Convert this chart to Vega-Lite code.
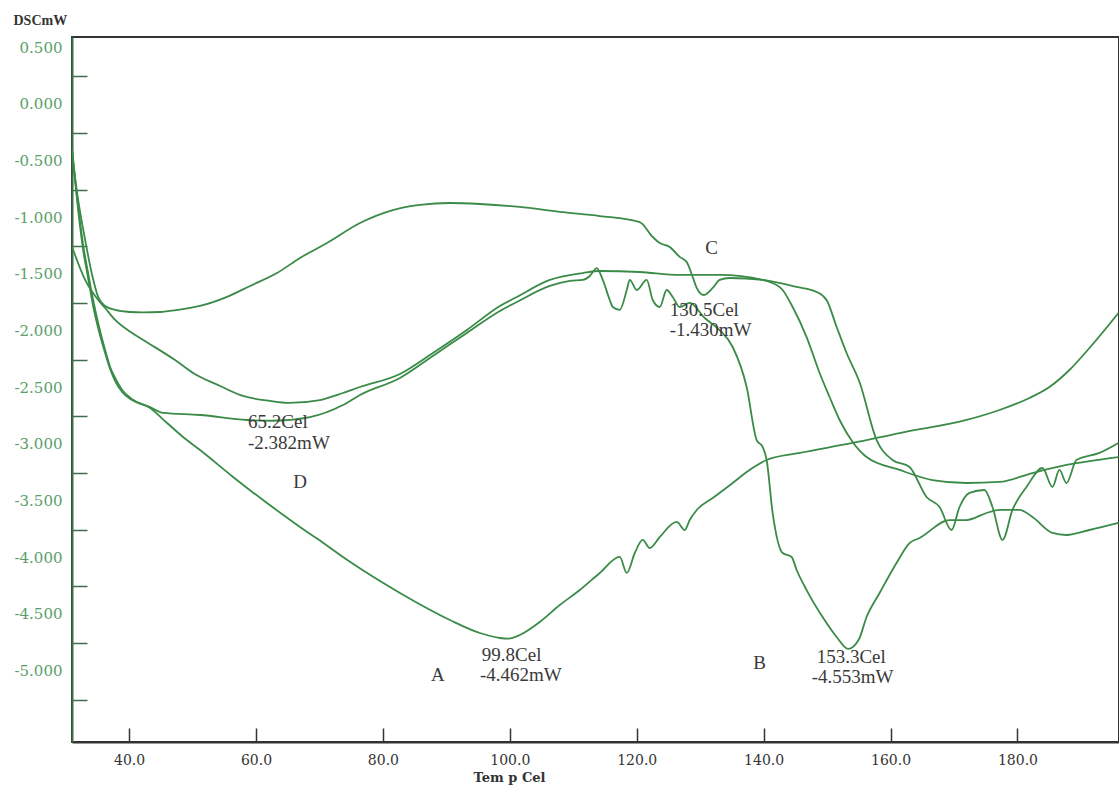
{
  "$schema": "https://vega.github.io/schema/vega-lite/v6.json",
  "width": 1047,
  "height": 705,
  "autosize": {"type": "none"},
  "padding": {"left": 72, "top": 37, "right": 0, "bottom": 44},
  "background": "white",
  "config": {"view": {"stroke": "#333333", "strokeWidth": 2}},
  "datasets": {
    "curves": [
      {"curve":"A","temp":31.02,"dsc":-0.15},{"curve":"A","temp":31.5,"dsc":-0.415},{"curve":"A","temp":31.97,"dsc":-0.653},{"curve":"A","temp":32.76,"dsc":-0.989},{"curve":"A","temp":33.54,"dsc":-1.236},{"curve":"A","temp":34.33,"dsc":-1.474},{"curve":"A","temp":35.12,"dsc":-1.677},{"curve":"A","temp":36.22,"dsc":-1.915},{"curve":"A","temp":37.01,"dsc":-2.065},{"curve":"A","temp":37.8,"dsc":-2.162},{"curve":"A","temp":38.9,"dsc":-2.268},{"curve":"A","temp":40.47,"dsc":-2.35},{"curve":"A","temp":43.31,"dsc":-2.427},{"curve":"A","temp":45.98,"dsc":-2.56},{"curve":"A","temp":48.5,"dsc":-2.683},{"curve":"A","temp":51.18,"dsc":-2.798},{"curve":"A","temp":56.38,"dsc":-3.036},{"curve":"A","temp":61.73,"dsc":-3.266},{"curve":"A","temp":66.93,"dsc":-3.477},{"curve":"A","temp":69.61,"dsc":-3.58},{"curve":"A","temp":74.8,"dsc":-3.785},{"curve":"A","temp":82.68,"dsc":-4.06},{"curve":"A","temp":90.55,"dsc":-4.298},{"curve":"A","temp":95.28,"dsc":-4.413},{"curve":"A","temp":98.43,"dsc":-4.457},{"curve":"A","temp":99.8,"dsc":-4.462},{"curve":"A","temp":101.57,"dsc":-4.431},{"curve":"A","temp":104.72,"dsc":-4.316},{"curve":"A","temp":107.87,"dsc":-4.166},{"curve":"A","temp":111.02,"dsc":-4.034},{"curve":"A","temp":114.17,"dsc":-3.883},{"curve":"A","temp":117.32,"dsc":-3.742},{"curve":"A","temp":118.43,"dsc":-3.883},{"curve":"A","temp":119.69,"dsc":-3.707},{"curve":"A","temp":120.94,"dsc":-3.592},{"curve":"A","temp":122.05,"dsc":-3.663},{"curve":"A","temp":123.62,"dsc":-3.566},{"curve":"A","temp":126.3,"dsc":-3.433},{"curve":"A","temp":127.56,"dsc":-3.504},{"curve":"A","temp":128.35,"dsc":-3.416},{"curve":"A","temp":129.45,"dsc":-3.327},{"curve":"A","temp":131.97,"dsc":-3.222},{"curve":"A","temp":135.12,"dsc":-3.089},{"curve":"A","temp":137.32,"dsc":-2.992},{"curve":"A","temp":140.47,"dsc":-2.886},{"curve":"A","temp":145.67,"dsc":-2.824},{"curve":"A","temp":154.02,"dsc":-2.736},{"curve":"A","temp":161.42,"dsc":-2.648},{"curve":"A","temp":171.97,"dsc":-2.533},{"curve":"A","temp":177.17,"dsc":-2.445},{"curve":"A","temp":181.89,"dsc":-2.339},{"curve":"A","temp":185.04,"dsc":-2.242},{"curve":"A","temp":188.19,"dsc":-2.092},{"curve":"A","temp":191.34,"dsc":-1.898},{"curve":"A","temp":195.91,"dsc":-1.589},
      {"curve":"B","temp":31.02,"dsc":-0.15},{"curve":"B","temp":31.5,"dsc":-0.432},{"curve":"B","temp":31.97,"dsc":-0.68},{"curve":"B","temp":32.76,"dsc":-1.033},{"curve":"B","temp":33.54,"dsc":-1.28},{"curve":"B","temp":34.33,"dsc":-1.527},{"curve":"B","temp":35.12,"dsc":-1.721},{"curve":"B","temp":36.22,"dsc":-1.942},{"curve":"B","temp":37.01,"dsc":-2.083},{"curve":"B","temp":37.8,"dsc":-2.189},{"curve":"B","temp":38.9,"dsc":-2.286},{"curve":"B","temp":40.47,"dsc":-2.357},{"curve":"B","temp":43.31,"dsc":-2.42},{"curve":"B","temp":45.35,"dsc":-2.471},{"curve":"B","temp":51.18,"dsc":-2.489},{"curve":"B","temp":58.58,"dsc":-2.533},{"curve":"B","temp":62.5,"dsc":-2.54},{"curve":"B","temp":68.5,"dsc":-2.507},{"curve":"B","temp":73.7,"dsc":-2.401},{"curve":"B","temp":76.38,"dsc":-2.312},{"curve":"B","temp":82.68,"dsc":-2.162},{"curve":"B","temp":87.87,"dsc":-1.968},{"curve":"B","temp":93.23,"dsc":-1.765},{"curve":"B","temp":98.43,"dsc":-1.571},{"curve":"B","temp":101.1,"dsc":-1.492},{"curve":"B","temp":106.3,"dsc":-1.35},{"curve":"B","temp":109.45,"dsc":-1.306},{"curve":"B","temp":111.5,"dsc":-1.297},{"curve":"B","temp":112.6,"dsc":-1.262},{"curve":"B","temp":113.7,"dsc":-1.192},{"curve":"B","temp":114.65,"dsc":-1.297},{"curve":"B","temp":115.75,"dsc":-1.474},{"curve":"B","temp":116.22,"dsc":-1.536},{"curve":"B","temp":117.32,"dsc":-1.562},{"curve":"B","temp":118.43,"dsc":-1.386},{"curve":"B","temp":118.9,"dsc":-1.297},{"curve":"B","temp":120.0,"dsc":-1.386},{"curve":"B","temp":121.57,"dsc":-1.297},{"curve":"B","temp":122.52,"dsc":-1.474},{"curve":"B","temp":123.62,"dsc":-1.536},{"curve":"B","temp":124.72,"dsc":-1.386},{"curve":"B","temp":125.67,"dsc":-1.447},{"curve":"B","temp":126.77,"dsc":-1.536},{"curve":"B","temp":128.35,"dsc":-1.5},{"curve":"B","temp":130.71,"dsc":-1.633},{"curve":"B","temp":133.07,"dsc":-1.739},{"curve":"B","temp":135.12,"dsc":-1.889},{"curve":"B","temp":137.32,"dsc":-2.242},{"curve":"B","temp":138.9,"dsc":-2.71},{"curve":"B","temp":139.84,"dsc":-2.771},{"curve":"B","temp":140.47,"dsc":-2.886},{"curve":"B","temp":141.42,"dsc":-3.354},{"curve":"B","temp":142.99,"dsc":-3.707},{"curve":"B","temp":144.41,"dsc":-3.742},{"curve":"B","temp":145.2,"dsc":-3.857},{"curve":"B","temp":146.77,"dsc":-4.034},{"curve":"B","temp":149.29,"dsc":-4.272},{"curve":"B","temp":151.5,"dsc":-4.448},{"curve":"B","temp":153.3,"dsc":-4.553},{"curve":"B","temp":155.0,"dsc":-4.47},{"curve":"B","temp":156.22,"dsc":-4.272},{"curve":"B","temp":158.27,"dsc":-4.06},{"curve":"B","temp":160.94,"dsc":-3.795},{"curve":"B","temp":162.99,"dsc":-3.619},{"curve":"B","temp":164.57,"dsc":-3.575},{"curve":"B","temp":169.29,"dsc":-3.416},{"curve":"B","temp":171.97,"dsc":-3.416},{"curve":"B","temp":175.12,"dsc":-3.354},{"curve":"B","temp":177.17,"dsc":-3.327},{"curve":"B","temp":180.31,"dsc":-3.327},{"curve":"B","temp":182.36,"dsc":-3.389},{"curve":"B","temp":185.51,"dsc":-3.53},{"curve":"B","temp":187.72,"dsc":-3.548},{"curve":"B","temp":191.34,"dsc":-3.504},{"curve":"B","temp":195.91,"dsc":-3.442},
      {"curve":"C","temp":31.02,"dsc":-0.194},{"curve":"C","temp":31.97,"dsc":-0.591},{"curve":"C","temp":33.07,"dsc":-0.944},{"curve":"C","temp":34.17,"dsc":-1.253},{"curve":"C","temp":35.12,"dsc":-1.447},{"curve":"C","temp":36.22,"dsc":-1.527},{"curve":"C","temp":37.8,"dsc":-1.562},{"curve":"C","temp":40.16,"dsc":-1.58},{"curve":"C","temp":42.2,"dsc":-1.584},{"curve":"C","temp":44.88,"dsc":-1.58},{"curve":"C","temp":47.56,"dsc":-1.562},{"curve":"C","temp":51.18,"dsc":-1.527},{"curve":"C","temp":55.43,"dsc":-1.447},{"curve":"C","temp":59.06,"dsc":-1.35},{"curve":"C","temp":63.31,"dsc":-1.236},{"curve":"C","temp":66.93,"dsc":-1.103},{"curve":"C","temp":71.18,"dsc":-0.971},{"curve":"C","temp":76.38,"dsc":-0.794},{"curve":"C","temp":81.57,"dsc":-0.68},{"curve":"C","temp":85.83,"dsc":-0.635},{"curve":"C","temp":90.55,"dsc":-0.618},{"curve":"C","temp":95.28,"dsc":-0.627},{"curve":"C","temp":101.57,"dsc":-0.653},{"curve":"C","temp":107.87,"dsc":-0.697},{"curve":"C","temp":114.17,"dsc":-0.733},{"curve":"C","temp":120.47,"dsc":-0.786},{"curve":"C","temp":122.52,"dsc":-0.918},{"curve":"C","temp":123.62,"dsc":-0.971},{"curve":"C","temp":125.2,"dsc":-1.006},{"curve":"C","temp":126.77,"dsc":-1.094},{"curve":"C","temp":127.87,"dsc":-1.139},{"curve":"C","temp":128.82,"dsc":-1.271},{"curve":"C","temp":129.45,"dsc":-1.368},{"curve":"C","temp":130.5,"dsc":-1.43},{"curve":"C","temp":131.97,"dsc":-1.368},{"curve":"C","temp":133.07,"dsc":-1.297},{"curve":"C","temp":134.65,"dsc":-1.28},{"curve":"C","temp":139.84,"dsc":-1.297},{"curve":"C","temp":145.2,"dsc":-1.359},{"curve":"C","temp":148.35,"dsc":-1.403},{"curve":"C","temp":149.92,"dsc":-1.474},{"curve":"C","temp":151.5,"dsc":-1.712},{"curve":"C","temp":153.07,"dsc":-1.942},{"curve":"C","temp":155.12,"dsc":-2.2},{"curve":"C","temp":157.8,"dsc":-2.71},{"curve":"C","temp":160.31,"dsc":-2.886},{"curve":"C","temp":162.99,"dsc":-2.948},{"curve":"C","temp":165.67,"dsc":-3.213},{"curve":"C","temp":167.72,"dsc":-3.301},{"curve":"C","temp":169.61,"dsc":-3.504},{"curve":"C","temp":170.87,"dsc":-3.301},{"curve":"C","temp":172.44,"dsc":-3.177},{"curve":"C","temp":174.8,"dsc":-3.151},{"curve":"C","temp":176.06,"dsc":-3.301},{"curve":"C","temp":177.64,"dsc":-3.592},{"curve":"C","temp":179.21,"dsc":-3.327},{"curve":"C","temp":181.42,"dsc":-3.124},{"curve":"C","temp":183.94,"dsc":-2.957},{"curve":"C","temp":185.51,"dsc":-3.124},{"curve":"C","temp":186.61,"dsc":-2.974},{"curve":"C","temp":187.72,"dsc":-3.089},{"curve":"C","temp":189.29,"dsc":-2.886},{"curve":"C","temp":192.91,"dsc":-2.824},{"curve":"C","temp":195.91,"dsc":-2.736},
      {"curve":"D","temp":31.02,"dsc":-1.006},{"curve":"D","temp":33.07,"dsc":-1.297},{"curve":"D","temp":35.12,"dsc":-1.474},{"curve":"D","temp":36.22,"dsc":-1.545},{"curve":"D","temp":37.8,"dsc":-1.65},{"curve":"D","temp":40.47,"dsc":-1.765},{"curve":"D","temp":42.99,"dsc":-1.853},{"curve":"D","temp":47.24,"dsc":-2.004},{"curve":"D","temp":50.08,"dsc":-2.118},{"curve":"D","temp":54.33,"dsc":-2.233},{"curve":"D","temp":57.95,"dsc":-2.321},{"curve":"D","temp":62.2,"dsc":-2.365},{"curve":"D","temp":65.2,"dsc":-2.382},{"curve":"D","temp":70.08,"dsc":-2.357},{"curve":"D","temp":73.7,"dsc":-2.295},{"curve":"D","temp":76.38,"dsc":-2.242},{"curve":"D","temp":82.68,"dsc":-2.127},{"curve":"D","temp":87.87,"dsc":-1.942},{"curve":"D","temp":93.23,"dsc":-1.739},{"curve":"D","temp":98.43,"dsc":-1.527},{"curve":"D","temp":101.1,"dsc":-1.447},{"curve":"D","temp":106.3,"dsc":-1.297},{"curve":"D","temp":111.5,"dsc":-1.236},{"curve":"D","temp":114.17,"dsc":-1.218},{"curve":"D","temp":120.47,"dsc":-1.227},{"curve":"D","temp":126.77,"dsc":-1.253},{"curve":"D","temp":133.07,"dsc":-1.253},{"curve":"D","temp":139.84,"dsc":-1.297},{"curve":"D","temp":140.94,"dsc":-1.315},{"curve":"D","temp":142.99,"dsc":-1.386},{"curve":"D","temp":144.57,"dsc":-1.536},{"curve":"D","temp":146.77,"dsc":-1.801},{"curve":"D","temp":148.82,"dsc":-2.118},{"curve":"D","temp":150.39,"dsc":-2.33},{"curve":"D","temp":151.97,"dsc":-2.533},{"curve":"D","temp":154.02,"dsc":-2.727},{"curve":"D","temp":156.22,"dsc":-2.86},{"curve":"D","temp":161.42,"dsc":-2.974},{"curve":"D","temp":166.61,"dsc":-3.063},{"curve":"D","temp":171.97,"dsc":-3.089},{"curve":"D","temp":177.17,"dsc":-3.08},{"curve":"D","temp":182.36,"dsc":-3.001},{"curve":"D","temp":187.72,"dsc":-2.93},{"curve":"D","temp":195.91,"dsc":-2.86}
    ],
    "notes": [
      {"label":"65.2Cel","temp":58.74,"dsc":-2.551},
      {"label":"-2.382mW","temp":58.74,"dsc":-2.736},
      {"label":"130.5Cel","temp":125.2,"dsc":-1.562},
      {"label":"-1.430mW","temp":125.2,"dsc":-1.739},
      {"label":"99.8Cel","temp":95.59,"dsc":-4.607},
      {"label":"-4.462mW","temp":95.28,"dsc":-4.784},
      {"label":"153.3Cel","temp":148.35,"dsc":-4.625},
      {"label":"-4.553mW","temp":147.56,"dsc":-4.801}
    ],
    "letters": [
      {"label":"A","temp":88.66,"dsc":-4.784},
      {"label":"B","temp":139.37,"dsc":-4.678},
      {"label":"C","temp":131.8,"dsc":-1.015},
      {"label":"D","temp":66.93,"dsc":-3.08}
    ]
  },
  "layer": [
    {
      "data": {"name": "curves"},
      "mark": {"type": "line", "color": "#3a8b47", "strokeWidth": 1.8, "interpolate": "monotone", "clip": true},
      "encoding": {
        "x": {
          "field": "temp", "type": "quantitative",
          "scale": {"domain": [31, 196], "nice": false, "zero": false},
          "axis": {
            "values": [40, 60, 80, 100, 120, 140, 160, 180],
            "format": ".1f",
            "grid": false,
            "tickSize": -14,
            "tickWidth": 1.5,
            "tickColor": "#333333",
            "domainColor": "#333333",
            "domainWidth": 2,
            "labelPadding": 25,
            "labelFont": "DejaVu Serif",
            "labelFontSize": 14,
            "labelColor": "#333333",
            "labelFlush": false,
            "labelOverlap": false,
            "title": "Tem p Cel",
            "titleX": 437,
            "titleY": 35,
            "titleAlign": "center",
            "titleBaseline": "middle",
            "titleFont": "DejaVu Serif",
            "titleFontSize": 13,
            "titleFontWeight": "bold",
            "titleColor": "#333333"
          }
        },
        "y": {
          "field": "dsc", "type": "quantitative",
          "scale": {"domain": [-5.375, 0.847], "nice": false, "zero": false},
          "axis": {
            "values": [0.5, 0, -0.5, -1, -1.5, -2, -2.5, -3, -3.5, -4, -4.5, -5],
            "labelExpr": "(datum.value < 0 ? '-' : '') + format(abs(datum.value), '.3f')",
            "grid": false,
            "tickSize": -15,
            "tickWidth": 1.5,
            "tickColor": "#3e6e4a",
            "domainColor": "#3e6e4a",
            "domainWidth": 2,
            "labelOffset": -29,
            "labelPadding": 25,
            "labelAlign": "right",
            "labelBaseline": "middle",
            "labelFont": "DejaVu Serif",
            "labelFontSize": 15,
            "labelColor": "#5a9e68",
            "labelFlush": false,
            "labelOverlap": false,
            "labelBound": false,
            "title": "DSCmW",
            "titleAngle": 0,
            "titleX": -59,
            "titleY": -17,
            "titleAlign": "left",
            "titleBaseline": "middle",
            "titleFont": "Liberation Serif",
            "titleFontSize": 14,
            "titleFontWeight": "bold",
            "titleColor": "#333333"
          }
        },
        "detail": {"field": "curve"}
      }
    },
    {
      "data": {"name": "notes"},
      "mark": {"type": "text", "align": "left", "baseline": "middle", "font": "Liberation Serif", "fontSize": 19, "color": "#3a3a3a"},
      "encoding": {
        "x": {"field": "temp", "type": "quantitative"},
        "y": {"field": "dsc", "type": "quantitative"},
        "text": {"field": "label"}
      }
    },
    {
      "data": {"name": "letters"},
      "mark": {"type": "text", "align": "center", "baseline": "middle", "font": "Liberation Serif", "fontSize": 19, "color": "#3a3a3a"},
      "encoding": {
        "x": {"field": "temp", "type": "quantitative"},
        "y": {"field": "dsc", "type": "quantitative"},
        "text": {"field": "label"}
      }
    }
  ]
}
